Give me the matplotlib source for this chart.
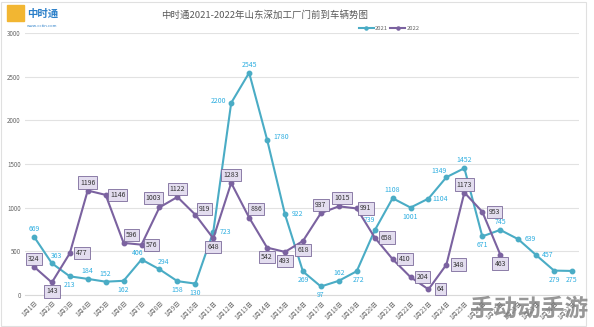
import matplotlib
matplotlib.use("Agg")
import matplotlib.pyplot as plt
from matplotlib.patches import Rectangle

plt.rcParams['font.family'] = ['Noto Sans CJK SC', 'DejaVu Sans']

dates = [f"1月{i}日" for i in range(1, 32)]
y2021 = [669, 363, 213, 184, 152, 162, 406, 294, 158, 130, 723, 2200, 2545, 1780,
         922, 269, 97, 162, 272, 739, 1108, 1001, 1104, 1349, 1452, 671, 745, 639,
         457, 279, 275]
y2022 = [324, 143, 477, 1196, 1146, 596, 576, 1003, 1122, 919, 648, 1283, 886, 542,
         493, 618, 937, 1015, 991, 658, 410, 204, 64, 348, 1173, 953, 463]
title = "中时通2021-2022年山东深加工厂门前到车辆势图"

# label placement (points offset in pixels)
A, B, R, L = (0, 8), (0, -9), (12, 0), (-12, 0)
pos2021 = [A, (5, 7), B, A, A, B, (-4, 7), (4, 7), B, B, R, (-13, 2), A, (14, 3),
           R, B, B, A, (2, -9), (-5, 10), A, B, R, (-7, 6), A, B, A, R, R, B, B]
pos2022 = [A, B, R, A, R, (8, 8), (10, 0), (-6, 9), A, (9, 6), B, A, (7, 9), B, B,
           B, A, (3, 8), (9, 0), R, R, R, R, R, A, R, B]

c21 = '#4aacc5'
c21t = '#2eaee0'
c22 = '#7b62a0'

fig = plt.figure(figsize=(5.94, 3.27), dpi=100)
ax = fig.add_axes([0.042, 0.098, 0.933, 0.801])
x = list(range(len(dates)))

ax.plot(x[:len(y2021)], y2021, color=c21, lw=1.5, marker='o', ms=3.2, label='2021', zorder=3)
ax.plot(x[:len(y2022)], y2022, color=c22, lw=1.5, marker='o', ms=3.2, label='2022', zorder=3)

for i, v in enumerate(y2021):
    ax.annotate(str(v), (i, v), xytext=pos2021[i], textcoords='offset pixels',
                ha='center', va='center', fontsize=5, color=c21t, zorder=5)
for i, v in enumerate(y2022):
    ax.annotate(str(v), (i, v), xytext=pos2022[i], textcoords='offset pixels',
                ha='center', va='center', fontsize=5, color='#333333', zorder=6,
                bbox=dict(boxstyle='square,pad=0.3', fc='#e3ddef', ec='#7b6a9a', lw=0.6))

ax.set_ylim(0, 3000)
ax.set_xlim(-0.5, 30.4)
ax.set_yticks(range(0, 3001, 500))
ax.set_xticks(x)
ax.set_xticklabels(dates, rotation=45, ha='right', rotation_mode='anchor', fontsize=4.5, color='#666666')
ax.tick_params(axis='y', labelsize=4.5, colors='#666666', length=0, pad=3)
ax.tick_params(axis='x', length=0, pad=3)
ax.grid(axis='y', color='#e2e2e2', lw=0.8)
ax.set_axisbelow(True)
for s in ['top', 'right', 'left']:
    ax.spines[s].set_visible(False)
ax.spines['bottom'].set_color('#d9d9d9')

fig.text(0.445, 0.954, title, ha='center', va='center', fontsize=6.8, color='#595959')
leg = fig.legend(loc='center', bbox_to_anchor=(0.655, 0.912), ncol=2, frameon=False,
                 fontsize=4.2, handlelength=2.6, columnspacing=0.4, handletextpad=0.2, markerscale=0.7)
for t in leg.get_texts():
    t.set_color('#666666')

# logo
fig.text(0.045, 0.958, "中时通", ha='left', va='center', fontsize=7.5, color='#2a7fc9', weight='bold')
fig.text(0.045, 0.922, "www.cctin.com", ha='left', va='center', fontsize=3, color='#2a7fc9')
fig.patches.append(Rectangle((0.012, 0.935), 0.028, 0.05, transform=fig.transFigure,
                             color='#f2b632', zorder=5))
# watermark
fig.text(0.99, 0.02, "手动动手游", ha='right', va='bottom', fontsize=17, color='#7d7d7d',
         alpha=0.8, weight='bold')

fig.patches.append(Rectangle((0.002, 0.004), 0.984, 0.99, transform=fig.transFigure,
                             fill=False, ec='#e0e0e0', lw=0.8))
fig.savefig('out.png', dpi=100)
